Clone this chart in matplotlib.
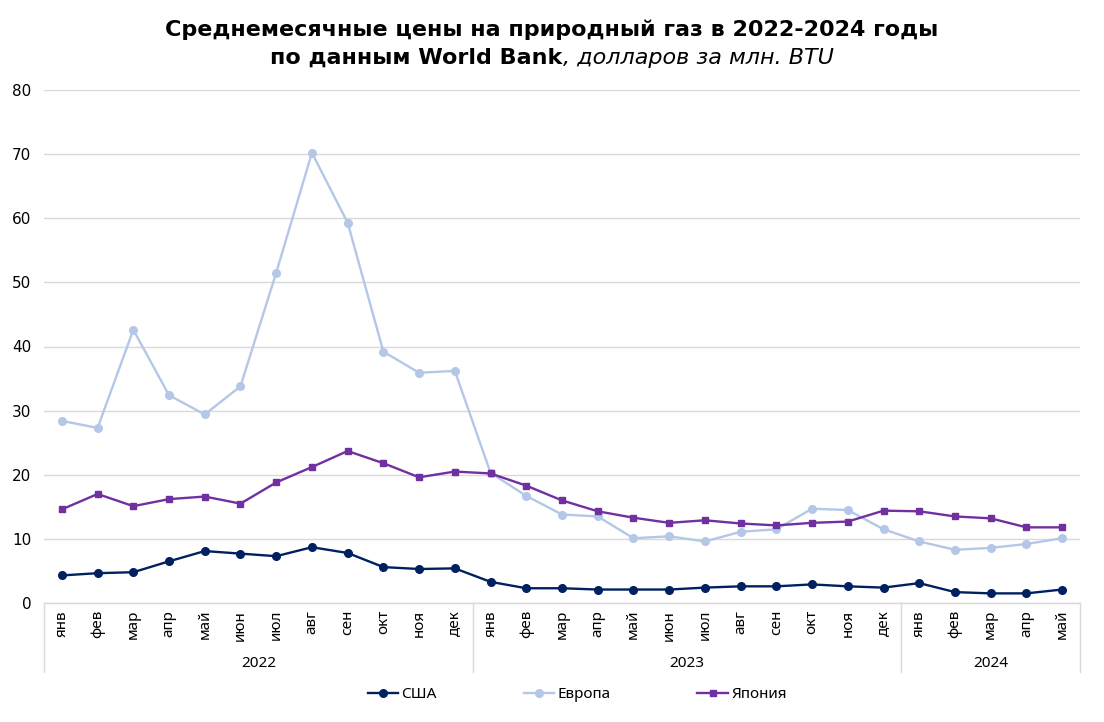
import matplotlib
matplotlib.use("Agg")
import matplotlib.pyplot as plt
import matplotlib.transforms as mtrans
import numpy as np

months = ["янв", "фев", "мар", "апр", "май", "июн", "июл", "авг", "сен", "окт", "ноя", "дек",
          "янв", "фев", "мар", "апр", "май", "июн", "июл", "авг", "сен", "окт", "ноя", "дек",
          "янв", "фев", "мар", "апр", "май"]
years = ["2022", "2023", "2024"]
year_counts = [12, 12, 5]

usa = [4.3, 4.65, 4.8, 6.5, 8.1, 7.7, 7.3, 8.7, 7.8, 5.6, 5.3, 5.4,
       3.3, 2.3, 2.3, 2.1, 2.1, 2.1, 2.4, 2.6, 2.6, 2.9, 2.6, 2.4,
       3.1, 1.7, 1.5, 1.5, 2.1]
europe = [28.4, 27.3, 42.6, 32.4, 29.4, 33.8, 51.5, 70.2, 59.3, 39.2, 35.9, 36.2,
          20.3, 16.7, 13.8, 13.5, 10.1, 10.4, 9.6, 11.1, 11.5, 14.7, 14.5, 11.5,
          9.6, 8.3, 8.6, 9.2, 10.1]
japan = [14.6, 17.0, 15.1, 16.2, 16.6, 15.5, 18.8, 21.2, 23.7, 21.8, 19.6, 20.5,
         20.2, 18.3, 16.0, 14.3, 13.3, 12.5, 12.9, 12.4, 12.1, 12.5, 12.7, 14.4,
         14.3, 13.5, 13.2, 11.8, 11.8]

series_names = ["США", "Европа", "Япония"]
colors = ["#002060", "#B4C7E7", "#7030A0"]
markers = ["o", "o", "s"]

plt.rcParams['font.family'] = ['DejaVu Sans']

fig = plt.figure(figsize=(11.04, 7.22), dpi=100)
ax = fig.add_axes([44/1104, 119/722, (1080-44)/1104, (603-90)/722])

x = np.arange(len(months))
handles = []
for vals, name, c, m in zip([usa, europe, japan], series_names, colors, markers):
    h, = ax.plot(x, vals, color=c, marker=m, markersize=5.5 if m == "o" else 5,
                 linewidth=1.7, label=name, zorder=3)
    handles.append(h)

ax.set_xlim(-0.5, len(months) - 0.5)
ax.set_ylim(0, 80)
ax.set_yticks(np.arange(0, 81, 10))
ax.yaxis.grid(True, color="#D9D9D9", linewidth=1)
ax.set_axisbelow(True)
for s in ["top", "right", "left"]:
    ax.spines[s].set_visible(False)
ax.spines["bottom"].set_color("#D9D9D9")
ax.spines["bottom"].set_linewidth(1)
ax.tick_params(axis="y", length=0, pad=9, labelsize=11, labelcolor="#000000")
ax.set_xticks(x)
ax.set_xticklabels(months, rotation=90, fontsize=11, family="Noto Sans")
ax.tick_params(axis="x", length=0, pad=5)

# year group labels and separators
trans = mtrans.blended_transform_factory(ax.transData, ax.transAxes)
start = 0
bounds = [-0.5]
for yr, n in zip(years, year_counts):
    center = start + (n - 1) / 2
    ax.text(center, -0.118, yr, transform=trans, ha="center", va="center",
            fontsize=11, family="Noto Sans")
    start += n
    bounds.append(start - 0.5)
for b in bounds:
    ax.plot([b, b], [0, -0.135], transform=trans, color="#D9D9D9",
            linewidth=1, clip_on=False)

fig.legend(handles=handles, labels=series_names, loc="center",
           bbox_to_anchor=(577/1104, 1 - 695/722), ncol=3, frameon=False,
           handlelength=2.0, columnspacing=5.7, handletextpad=0.2,
           prop={"family": "Noto Sans", "size": 11})

# title
fig.text(0.5, 1 - 30/722, "Среднемесячные цены на природный газ в 2022-2024 годы",
         ha="center", va="center", fontsize=16, fontweight="bold")
t1 = fig.text(0.5, 1 - 58/722, "по данным World Bank", ha="left", va="center",
              fontsize=16, fontweight="bold")
t2 = fig.text(0.5, 1 - 58/722, ", долларов за млн. BTU", ha="left", va="center",
              fontsize=16, fontstyle="italic")
fig.canvas.draw()
r = fig.canvas.get_renderer()
w1 = t1.get_window_extent(r).width
w2 = t2.get_window_extent(r).width
W = fig.bbox.width
x0 = (W - (w1 + w2)) / 2
t1.set_x(x0 / W)
t2.set_x((x0 + w1) / W)

fig.savefig("out.png", dpi=100)
